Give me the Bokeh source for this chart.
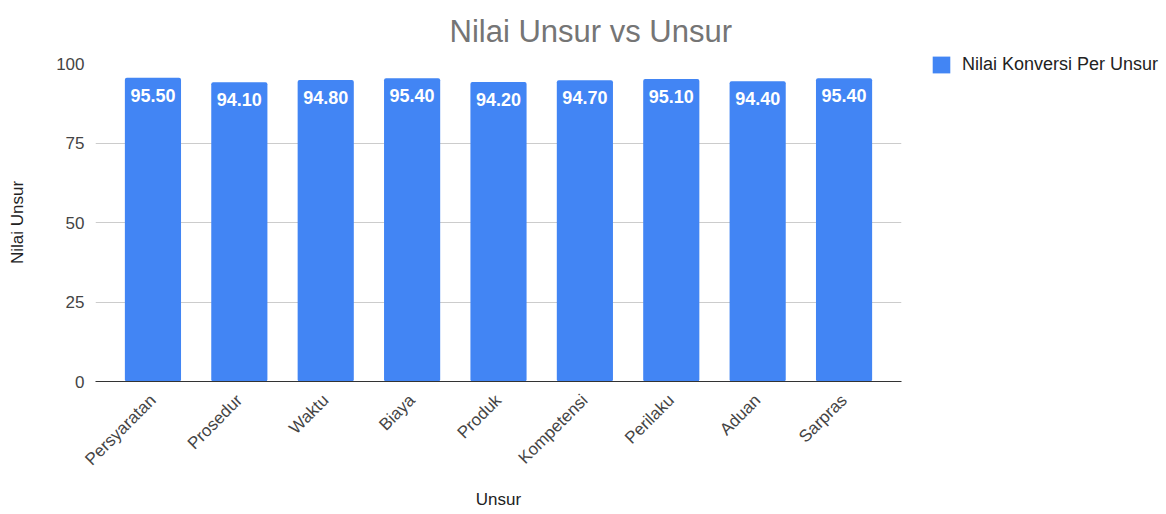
import math
from bokeh.plotting import figure
from bokeh.models import ColumnDataSource, Legend, LegendItem, Title, Range1d, FactorRange
from bokeh.core.properties import value
from bokeh.embed import file_html
from bokeh.resources import INLINE

categories = ["Persyaratan", "Prosedur", "Waktu", "Biaya", "Produk", "Kompetensi", "Perilaku", "Aduan", "Sarpras"]
nilai = [95.5, 94.1, 94.8, 95.4, 94.2, 94.7, 95.1, 94.4, 95.4]
y_ticks = [0, 25, 50, 75, 100]

FONT = "Liberation Sans"
BLUE = "#4285F4"

src = ColumnDataSource(dict(cat=categories, val=nilai, lab=[f"{v:.2f}" for v in nilai]))

p = figure(frame_width=806, frame_height=318, output_backend="svg", toolbar_location=None,
           title=None,
           x_range=FactorRange(factors=categories, range_padding=0.165, range_padding_units="absolute"),
           y_range=Range1d(0, 100),
           min_border_left=95, min_border_right=260, min_border_top=63, min_border_bottom=125)
p.outline_line_color = None

r = p.vbar(x="cat", top="val", width=0.65, source=src, fill_color=BLUE, line_color=None,
           border_radius=2)
p.text(x="cat", y="val", text="lab", source=src, text_color="white", text_font=value(FONT),
       text_font_style="bold", text_font_size="18px", text_align="center", text_baseline="top",
       y_offset=11)

p.yaxis.ticker = y_ticks
p.ygrid.ticker = y_ticks
p.ygrid.grid_line_color = "#cccccc"
p.xgrid.grid_line_color = None
p.yaxis.axis_line_color = None
p.yaxis.major_tick_line_color = None
p.yaxis.minor_tick_line_color = None
p.yaxis.major_tick_out = 0
p.yaxis.minor_tick_out = 0
p.xaxis.major_tick_line_color = None
p.xaxis.minor_tick_line_color = None
p.xaxis.axis_line_color = "#333333"
p.xaxis.axis_line_width = 1.2

for ax in (p.xaxis[0], p.yaxis[0]):
    ax.major_label_text_font = FONT
    ax.major_label_text_font_size = "17px"
    ax.major_label_text_color = "#444444"
    ax.axis_label_text_font = FONT
    ax.axis_label_text_font_size = "17px"
    ax.axis_label_text_font_style = "normal"
    ax.axis_label_text_color = "#222222"

p.yaxis.major_label_standoff = 11
p.xaxis.major_label_standoff = 10
p.xaxis.major_label_orientation = math.pi / 4
p.yaxis.axis_label = "Nilai Unsur"
p.xaxis.axis_label = "Unsur"
p.yaxis.axis_label_standoff = 26
p.xaxis.axis_label_standoff = 11

legend = Legend(items=[LegendItem(label="Nilai Konversi Per Unsur", renderers=[r])],
                location=(29, 306), border_line_color=None, background_fill_alpha=0,
                label_text_font=FONT, label_text_font_size="18px", label_text_color="#222222",
                glyph_width=22, glyph_height=21, label_height=21, padding=0, margin=0,
                label_standoff=10)
p.add_layout(legend, "right")

title = Title(text="Nilai Unsur vs Unsur", align="left", offset=354, standoff=26,
              vertical_align="top",
              text_font=FONT, text_font_size="31px", text_color="#757575",
              text_font_style="normal")
p.add_layout(title, "above")

open("out.html", "w").write(file_html(p, INLINE))
